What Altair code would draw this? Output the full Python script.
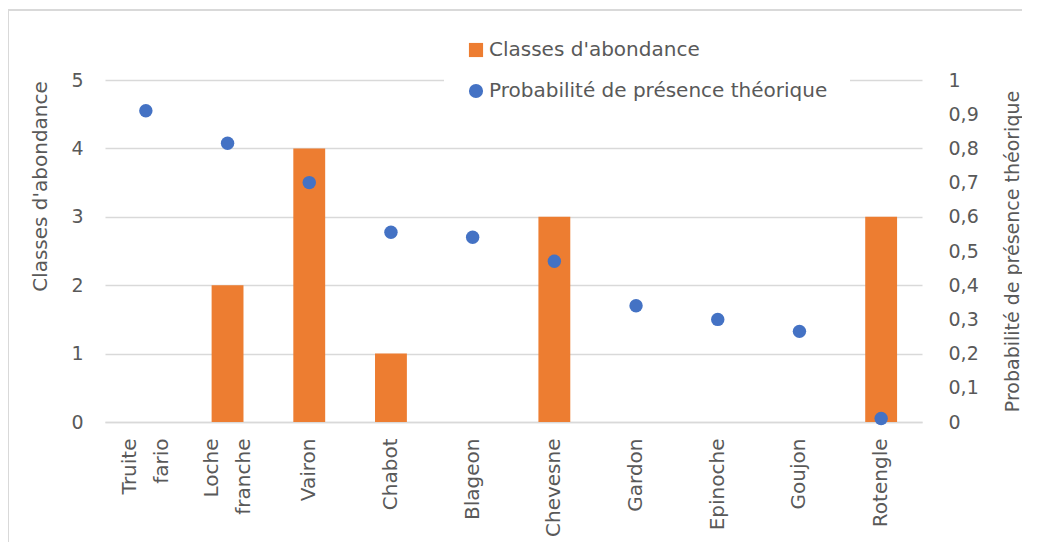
import altair as alt
import pandas as pd

especes = ["Truite fario", "Loche franche", "Vairon", "Chabot", "Blageon",
           "Chevesne", "Gardon", "Epinoche", "Goujon", "Rotengle"]
classes = [0, 2, 4, 1, 0, 3, 0, 0, 0, 3]
probabilite = [0.91, 0.815, 0.70, 0.555, 0.54, 0.47, 0.34, 0.30, 0.265, 0.01]

S_BAR = "Classes d'abondance"
S_PT = "Probabilité de présence théorique"

df = pd.DataFrame({"espece": especes, "classe": classes, "proba": probabilite,
                   "s_bar": S_BAR, "s_pt": S_PT})

FONT = "DejaVu Sans"
GRAY = "#595959"
GRID = "#d9d9d9"
W, H = 817, 342

x_enc = alt.X("espece:N", sort=especes, title=None,
              scale=alt.Scale(paddingInner=0.61, paddingOuter=0.305),
              axis=alt.Axis(labelAngle=270, labelAlign="right", labelBaseline="middle",
                            labelExpr="split(datum.label, ' ')", labelPadding=16,
                            labelOffset=alt.ExprRef("indexof(datum.label, ' ') >= 0 ? -16 : 0"),
                            ticks=False, domainColor=GRID, domainWidth=1.5,
                            labelFontSize=20, labelColor=GRAY, labelLineHeight=32,
                            grid=False))

color_scale = alt.Scale(domain=[S_BAR, S_PT], range=["#ED7D31", "#4472C4"])
shape_scale = alt.Scale(domain=[S_BAR, S_PT], range=["square", "circle"])
legend = alt.Legend(title=None, orient="none", legendX=339, legendY=-62,
                    fillColor="white", padding=22, labelFontSize=20, labelColor=GRAY,
                    symbolSize=200, rowPadding=21, labelOffset=3, symbolStrokeWidth=0,
                    labelLimit=600)

bars = alt.Chart(df).mark_bar().encode(
    x=x_enc,
    y=alt.Y("classe:Q", title="Classes d'abondance",
            scale=alt.Scale(domain=[0, 5]),
            axis=alt.Axis(values=[0, 1, 2, 3, 4, 5], ticks=False, domain=False,
                          gridColor=GRID, gridWidth=1.5, labelPadding=22,
                          labelFontSize=19, labelColor=GRAY, titleFontSize=20,
                          titleColor=GRAY, titleFontWeight="normal", titlePadding=20,
                          titleY=106)),
    color=alt.Color("s_bar:N", scale=color_scale, legend=legend),
)

points = alt.Chart(df).mark_point(filled=True, size=180, opacity=1).encode(
    x=x_enc,
    y=alt.Y("proba:Q", title="Probabilité de présence théorique",
            scale=alt.Scale(domain=[0, 1]),
            axis=alt.Axis(orient="right", values=[0, 0.1, 0.2, 0.3, 0.4, 0.5, 0.6, 0.7, 0.8, 0.9, 1],
                          labelExpr="replace(format(datum.value, '.1~f'), '.', ',')",
                          ticks=False, domain=False, grid=False, labelPadding=26,
                          labelFontSize=19, labelColor=GRAY, titleFontSize=19,
                          titleColor=GRAY, titleFontWeight="normal", titleAngle=270,
                          titlePadding=44)),
    color=alt.Color("s_pt:N", scale=color_scale, legend=legend),
    shape=alt.Shape("s_pt:N", scale=shape_scale, legend=legend),
)

border_top = alt.Chart(df).mark_rule(stroke=GRID, strokeWidth=2).encode(
    x=alt.value(-97), x2=alt.value(W + 110), y=alt.value(-70)
)
border_left = alt.Chart(df).mark_rule(stroke=GRID, strokeWidth=2).encode(
    x=alt.value(-97), y=alt.value(-70), y2=alt.value(H + 130)
)

chart = alt.layer(border_top, border_left, bars, points).resolve_scale(y="independent").properties(
    width=W, height=H,
    padding={"left": 97, "top": 72, "right": 100, "bottom": 120},
    autosize=alt.AutoSizeParams(type="none"),
).configure(font=FONT).configure_view(stroke=None)

chart.save("out.html", embed_options={"renderer": "svg", "actions": False})
